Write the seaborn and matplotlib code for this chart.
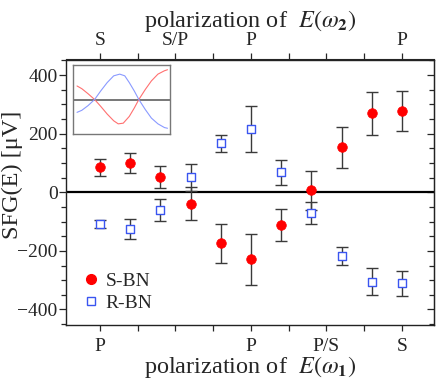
import matplotlib
matplotlib.use("Agg")
import matplotlib.pyplot as plt
from matplotlib.lines import Line2D
from matplotlib.ticker import MultipleLocator, FixedLocator, FixedFormatter
import numpy as np
import pandas as pd
import seaborn as sns

# ---- data ----
positions = [0, 0.8, 1.6, 2.4, 3.2, 4.0, 4.8, 5.6, 6.4, 7.2, 8.0]
s_bn = [85, 100, 51, -39, -174, -229, -111, 6, 153, 269, 277]
s_bn_err = [30, 33, 37, 57, 66, 87, 54, 65, 71, 74, 68]
r_bn = [-108, -125, -60, 51, 167, 216, 68, -70, -217, -305, -311]
r_bn_err = [15, 34, 37, 47, 30, 77, 43, 37, 30, 45, 42]

x_ticks = [0, 1, 2, 3, 4, 5, 6, 7, 8]
bottom_labels = ["P", "", "", "", "P", "", "P/S", "", "S"]
top_labels = ["S", "", "S/P", "", "P", "", "", "", "P"]
y_ticks = [-400, -200, 0, 200, 400]

# inset illustration curves
inset_red_x = [0, 9.5, 22, 35, 47, 60, 73, 82, 92, 104, 114, 123, 136, 148, 161, 174, 180]
inset_red_y = [40, 32, 17, 0, -20, -43, -63, -72, -70, -50, -25, 0, 30, 55, 75, 85, 88]
inset_blue_x = [0, 9.5, 22, 35, 47, 60, 73, 85, 95, 104, 114, 123, 136, 148, 161, 174, 180]
inset_blue_y = [-38, -32, -18, 0, 25, 50, 70, 75, 70, 50, 25, 0, -30, -55, -72, -83, -85]

sns.set_style("ticks")
plt.rcParams["font.family"] = ["Liberation Serif", "DejaVu Serif"]
plt.rcParams["mathtext.fontset"] = "stix"

df = pd.DataFrame({
    "pos": positions * 2,
    "val": s_bn + r_bn,
    "err": s_bn_err + r_bn_err,
    "sample": ["S-BN"] * len(s_bn) + ["R-BN"] * len(r_bn),
})

fig = plt.figure(figsize=(4.36, 3.84), dpi=100)
ax = fig.add_axes([66 / 436, 59 / 384, (434 - 66) / 436, (325 - 59.5) / 384])

ax.axhline(0, color="black", lw=1.6, zorder=1.5)

red = "#ff0000"
blue = "#3a55f0"
for name in ["S-BN", "R-BN"]:
    sub = df[df["sample"] == name]
    eb = ax.errorbar(sub["pos"], sub["val"], yerr=sub["err"], fmt="none",
                     ecolor="#3a3a3a", elinewidth=1.0, capsize=4.5, capthick=1.0,
                     zorder=2)
    for cl in eb[1]:
        cl.set_color("#7a7a7a")

sns.scatterplot(data=df[df["sample"] == "S-BN"], x="pos", y="val", ax=ax,
                marker="o", s=48, color=red, edgecolor=red, linewidth=0.5,
                zorder=3, legend=False)
sns.scatterplot(data=df[df["sample"] == "R-BN"], x="pos", y="val", ax=ax,
                marker="s", s=36, facecolor="white", edgecolor=blue, linewidth=1.0,
                zorder=3, legend=False)

ax.set_xlim(-0.9, 8.85)
ax.set_ylim(-453, 453)

# bottom axis
ax.xaxis.set_major_locator(FixedLocator(x_ticks))
ax.xaxis.set_major_formatter(FixedFormatter(bottom_labels))
ax.tick_params(axis="x", which="major", direction="out", length=4.5, width=0.9,
               labelsize=14, pad=5, top=False)
ax.set_xlabel(r"polarization of  $E(\omega_{\mathbf{1}})$", fontsize=17.5, labelpad=-1)

# left axis
ax.yaxis.set_major_locator(FixedLocator(y_ticks))
ax.yaxis.set_minor_locator(MultipleLocator(50))
ax.set_yticklabels([f"{v}".replace("-", "\u2212") for v in y_ticks])
ax.tick_params(axis="y", which="major", direction="out", length=5, width=0.9,
               labelsize=14, pad=1, right=False)
ax.tick_params(axis="y", which="minor", direction="out", length=3.5, width=0.9,
               right=False)
ax.set_ylabel("SFG(E) [\u03bcV]", fontsize=17.5)
ax.yaxis.set_label_coords(-0.118, 0.565)

# top axis
top = ax.secondary_xaxis("top")
top.xaxis.set_major_locator(FixedLocator(x_ticks))
top.xaxis.set_major_formatter(FixedFormatter(top_labels))
top.tick_params(axis="x", direction="out", length=4.5, width=0.9, labelsize=14, pad=3)
top.set_xlabel(r"polarization of  $E(\omega_{\mathbf{2}})$", fontsize=17.5, labelpad=4)

# right axis (ticks inward)
right = ax.secondary_yaxis("right")
right.yaxis.set_major_locator(FixedLocator(y_ticks))
right.yaxis.set_minor_locator(MultipleLocator(50))
right.tick_params(axis="y", which="major", direction="in", length=5, width=0.9, labelright=False)
right.tick_params(axis="y", which="minor", direction="in", length=3.5, width=0.9)
right.set_yticklabels([])

for sp in ax.spines.values():
    sp.set_linewidth(1.0)
    sp.set_color("#222222")

# legend
handles = [
    Line2D([], [], ls="none", marker="o", ms=7, color=red, mec=red),
    Line2D([], [], ls="none", marker="s", ms=6, mfc="white", mec=blue, mew=1.0),
]
ax.legend(handles, ["S-BN", "R-BN"], loc="lower left",
          bbox_to_anchor=(84 / 436, (384 - 312) / 384), bbox_transform=fig.transFigure,
          frameon=False, fontsize=14, handlelength=0.7, handletextpad=0.4,
          labelspacing=0.25, borderaxespad=0, borderpad=0)

# inset
ins = fig.add_axes([73 / 436, (384 - 134) / 384, 97 / 436, 69 / 384])
ins.axhline(0, color="#777777", lw=1.4, zorder=1)
sns.lineplot(x=inset_red_x, y=inset_red_y, ax=ins, color="#ff7070", lw=0.8, zorder=2)
sns.lineplot(x=inset_blue_x, y=inset_blue_y, ax=ins, color="#8a9aff", lw=0.8, zorder=2)
ins.set_xlim(-8, 185)
ins.set_ylim(-102, 102)
ins.set_xticks([])
ins.set_yticks([])
for sp in ins.spines.values():
    sp.set_linewidth(1.0)
    sp.set_color("#777777")

fig.savefig("out.png", dpi=100)
